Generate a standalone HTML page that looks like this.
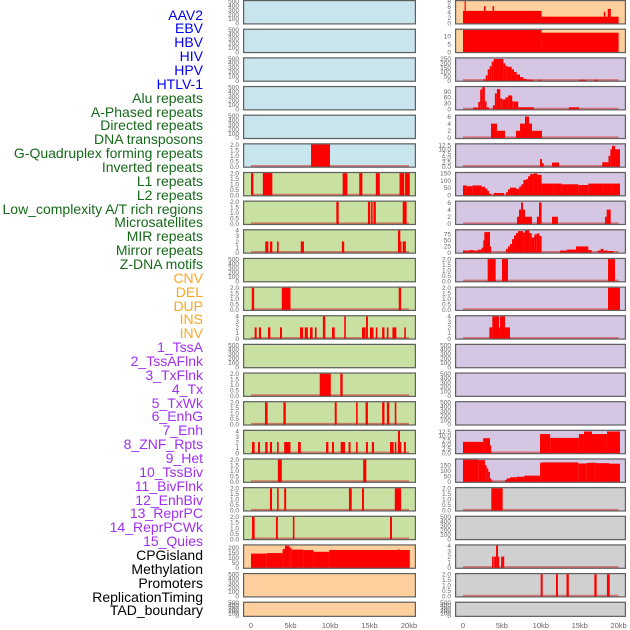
<!DOCTYPE html>
<html><head><meta charset="utf-8">
<style>
html,body{margin:0;padding:0;background:#fff;}
body{width:630px;height:630px;overflow:hidden;position:relative;font-family:"Liberation Sans",sans-serif;}
#labels div{position:absolute;right:427px;font-size:14px;line-height:14px;white-space:nowrap;}
svg{position:absolute;left:0;top:0;}
</style></head>
<body>
<div id="labels"></div>
<svg id="chart" width="630" height="630"></svg>
<script>
const trackNames = ["AAV2","EBV","HBV","HIV","HPV","HTLV-1","Alu repeats","A-Phased repeats","Directed repeats","DNA transposons","G-Quadruplex forming repeats","Inverted repeats","L1 repeats","L2 repeats","Low_complexity A/T rich regions","Microsatellites","MIR repeats","Mirror repeats","Z-DNA motifs","CNV","DEL","DUP","INS","INV","1_TssA","2_TssAFlnk","3_TxFlnk","4_Tx","5_TxWk","6_EnhG","7_Enh","8_ZNF_Rpts","9_Het","10_TssBiv","11_BivFlnk","12_EnhBiv","13_ReprPC","14_ReprPCWk","15_Quies","CPGisland","Methylation","Promoters","ReplicationTiming","TAD_boundary"];
const trackGroups = ["v","v","v","v","v","v","r","r","r","r","r","r","r","r","r","r","r","r","r","s","s","s","s","s","c","c","c","c","c","c","c","c","c","c","c","c","c","c","c","o","o","o","o","o"];
const xTickLabels = ["0","5kb","10kb","15kb","20kb"];
const xTickValues = [0,5,10,15,20];
const T500=[0,100,200,300,400,500], T2=[0,0.5,1,1.5,2], T4=[0,1,2,3,4];

const L05=[[7.6,10.0,2]];
const L06=[[0,0.3,2],[1.5,2.7,2],[11.6,12.2,2],[13.7,14.1,2],[15.8,16.3,2],[18.8,19.4,2],[19.5,20.1,2]];
const L07=[[10.8,11.1,2],[14.8,15.1,2],[15.2,15.4,2],[15.5,15.8,2],[19.2,19.7,2]];
const L08=[[1.8,2.2,2],[2.4,2.7,2],[3.3,3.5,2],[6.3,6.7,2],[11.5,11.8,2],[18.6,18.9,4],[18.9,19.0,2],[19.2,19.6,2]];
const L10=[[0.1,0.4,2],[3.9,5.0,2],[18.7,19.0,2]];
const L11=[[0.46,0.72,2],[1.0,1.27,2],[2.15,2.45,2],[3.67,3.92,2],[6.2,6.6,2],[6.8,7.2,2],[7.47,7.8,2],[8.1,8.3,2],[9.1,9.4,4],[10.25,10.6,2],[11.8,12.0,4],[14.05,14.5,2],[14.56,14.8,4],[15.06,15.5,2],[15.8,16.0,2],[16.6,16.9,2],[17.2,17.4,2],[17.9,18.4,2],[19.4,19.6,2]];
const L13=[[8.7,10.1,2],[11.3,11.6,2]];
const L14=[[1.77,2.1,2],[4.1,4.4,2],[10.6,10.85,2],[13.3,13.5,2],[14.5,14.8,2],[16.6,16.9,2],[17.2,17.5,2],[18.2,18.4,2]];
const L15=[[0.13,0.46,2],[0.89,1.14,2],[1.8,2.1,2],[2.4,2.66,2],[3.3,3.5,2],[4.2,5.0,2],[5.95,6.3,2],[9.5,9.8,2],[10.25,10.5,2],[11.35,11.9,2],[12.35,12.6,2],[13.3,13.5,2],[14.55,14.8,2],[15.3,15.57,2],[17.6,18.06,2],[18.2,18.4,2],[18.6,18.86,4],[18.86,19.0,2],[19.36,19.6,2]];
const L16=[[3.4,3.9,2],[14.2,14.6,2]];
const L17=[[2.4,2.66,2],[3.3,3.5,2],[4.2,4.45,2],[12.4,12.75,2],[14.05,14.3,2],[18.2,19.0,2]];
const L18=[[0.13,0.46,2],[3.16,3.4,2],[5.3,5.5,2],[17.6,17.85,2]];
const L19=[[0,2,140],[2,4,145],[4,4.3,185],[4.3,4.85,218],[4.85,5.1,200],[5.1,6.6,180],[6.6,7.9,175],[7.9,9.9,158],[9.9,20.1,176],[18.6,18.8,182]];

const R00=[[0,10.1,4.5],[0.2,0.35,8],[2.7,2.9,6.2],[3.8,4.0,6.2],[10.1,20,2.4],[18.1,18.3,4.2],[18.6,19.0,5.2]];
const R01=[[0,10.1,14],[10.1,20,12.2]];
const R02=[[2.62,2.92,15],[2.92,3.18,60],[3.18,3.43,130],[3.43,3.69,165],[3.69,3.94,220],[3.94,5.19,250],[5.19,5.44,200],[5.44,5.7,170],[5.7,6.25,160],[6.25,6.55,130],[6.55,6.9,100],[6.9,7.33,70],[7.33,7.76,40],[7.76,8.18,20],[8.18,9.04,10],[9.73,10.07,9],[14.9,15.8,9],[16.84,17.3,9]];
const R03=[[1.31,1.96,9],[1.96,2.21,37],[2.21,2.47,100],[2.47,2.81,112],[2.81,3.03,40],[3.03,3.33,10],[3.84,4.1,20],[4.1,4.36,80],[4.36,4.79,102],[4.79,5.04,55],[5.04,5.47,50],[5.47,5.81,60],[5.81,6.33,70],[6.33,6.54,40],[6.54,7.1,39],[7.1,7.61,10],[7.61,9.11,10],[13.6,14.9,10]];
const R04=[[3.6,4.37,4],[4.37,5.4,2],[6.81,7.33,2],[7.33,7.97,4],[7.97,8.48,6],[8.48,8.87,4],[8.87,10.15,2]];
const R05=[[9.9,10.15,4.3],[10.15,10.37,2],[11.44,12.34,2.3],[17.9,18.7,2.5],[18.7,18.94,6.2],[18.94,19.15,10],[19.15,19.54,12],[19.54,20.18,10]];
const R06=[[0,0.47,67],[0.47,1.24,62],[1.24,2.4,67],[2.4,2.83,58],[2.83,3.13,45],[3.13,3.34,30],[3.34,3.6,10],[3.98,5.27,15],[5.52,5.78,20],[5.78,6.04,40],[6.04,6.81,52],[6.81,7.24,45],[7.24,7.5,60],[7.5,7.76,75],[7.76,8.1,105],[8.1,8.36,110],[8.36,8.61,130],[8.61,9.04,145],[9.04,9.56,150],[9.56,10.1,140],[10.1,11.61,80],[11.61,12.68,80],[12.68,14.82,75],[14.82,16.11,70],[16.11,18.04,80],[18.04,19.1,80],[19.1,20.18,80]];
const R07=[[6.94,7.2,2],[7.2,7.46,4],[7.46,7.71,6],[7.71,7.97,4],[7.97,8.87,2],[9.5,9.77,2],[9.77,10.1,6],[11.44,12.2,2],[18.25,18.47,2],[18.47,18.98,4]];
const R08=[[0,0.9,8],[0.9,1.33,10],[1.33,1.97,8],[1.97,2.4,12],[2.4,2.61,20],[2.61,2.74,50],[2.74,3.47,84],[3.47,3.6,25],[5.52,5.78,15],[5.78,6.04,25],[6.04,6.3,35],[6.3,6.56,55],[6.56,6.81,70],[6.81,7.07,80],[7.07,7.76,88],[7.76,7.97,82],[7.97,8.53,91],[8.53,8.83,80],[8.83,9.17,62],[9.17,9.47,75],[9.47,9.81,78],[9.81,10.1,68],[12.47,13.33,8],[13.33,14.53,12],[14.53,16.11,25],[16.11,16.54,10],[17.31,17.7,8],[17.7,18.04,15],[18.04,18.6,8],[18.6,19.33,6]];
const R09=[[3.17,4.2,2],[5.01,5.78,2],[18.64,19.54,2]];
const R10=[[18.64,20.18,2]];
const R11=[[3.39,3.77,2],[3.77,4.63,4],[4.63,4.76,2],[4.76,5.4,4],[5.4,6.04,2]];
const R15=[[0,2.59,6.5],[2.59,3.47,8.6],[3.47,3.6,4.5],[9.9,11.2,11],[11.2,14.9,8.8],[14.9,15.55,11],[15.55,16.58,12.5],[16.58,18.5,11],[18.5,20.18,12.5]];
const R16=[[0,1.97,200],[1.97,2.83,195],[2.83,3.04,150],[3.04,3.26,120],[3.26,3.47,90],[3.47,3.64,30],[3.64,3.9,8],[5.4,5.61,15],[5.61,6.04,30],[6.04,6.9,40],[6.9,7.88,45],[7.88,9.9,55],[9.9,10.1,170],[10.1,14.82,175],[14.82,15.89,165],[15.89,16.32,170],[16.32,17.05,172],[17.05,18.77,168],[18.77,20.18,163]];
const R17=[[3.64,5.1,2]];
const R19=[[3.73,3.94,2],[4.0,4.25,2],[4.25,4.5,4],[4.5,4.63,2],[4.9,5.3,2]];
const R20=[[9.98,10.24,2],[11.95,12.2,2],[13.3,13.6,2],[16.88,17.18,2],[18.5,18.86,2]];

// [col,row,bg,segments,ymax,ticks]
const B='#c8e4ec',G='#c8e0a2',O='#ffd09e',P='#d5c7e3',Y='#d0d0d0';
const panels=[
[0,0,B,null,500,T500],[0,1,B,null,500,T500],[0,2,B,null,500,T500],[0,3,B,null,500,T500],[0,4,B,null,500,T500],
[0,5,B,L05,2,T2],[0,6,G,L06,2,T2],[0,7,G,L07,2,T2],[0,8,G,L08,4,T4],[0,9,G,null,500,T500],
[0,10,G,L10,2,T2],[0,11,G,L11,4,T4],[0,12,G,null,500,T500],[0,13,G,L13,2,T2],[0,14,G,L14,2,T2],
[0,15,G,L15,4,T4],[0,16,G,L16,2,T2],[0,17,G,L17,2,T2],[0,18,G,L18,2,T2],[0,19,O,L19,220,[0,50,100,150,200]],
[0,20,O,null,500,T500],[0,21,O,null,500,T500],
[1,0,O,R00,8,[0,2,4,6,8]],[1,1,O,R01,14,[0,5,10]],[1,2,P,R02,255,[0,50,100,150,200,250]],[1,3,P,R03,112,[0,30,60,90]],
[1,4,P,R04,6.2,[0,2,4,6]],[1,5,P,R05,12.8,[0,2.5,5,7.5,10,12.5]],[1,6,P,R06,152,[0,50,100,150]],[1,7,P,R07,6.2,[0,2,4,6]],
[1,8,P,R08,91,[0,25,50,75]],[1,9,P,R09,2,T2],[1,10,P,R10,2,T2],[1,11,P,R11,4,T4],[1,12,P,null,500,T500],
[1,13,P,null,500,T500],[1,14,P,null,500,T500],[1,15,P,R15,12.8,[0,2.5,5,7.5,10,12.5]],[1,16,P,R16,200,[0,50,100,150]],
[1,17,Y,R17,2,T2],[1,18,Y,null,500,T500],[1,19,Y,R19,4,T4],[1,20,Y,R20,2,T2],[1,21,Y,null,500,T500]
];

const NS='http://www.w3.org/2000/svg';
const svg=document.getElementById('chart');
const colL=[243,455], colR=[416,626], x0px=[251,463], pxkb=[7.9,7.78];
function xs(c,kb){return x0px[c]+kb*pxkb[c];}
function mk(t,a){const e=document.createElementNS(NS,t);for(const k in a)e.setAttribute(k,a[k]);return e;}
const colors={v:'#0000ee',r:'#17691a',s:'#ffa520',c:'#a030f0',o:'#000000'};
const lab=document.getElementById('labels');
trackNames.forEach((n,i)=>{
  const d=document.createElement('div');
  d.textContent=n;
  d.style.top=(15+i*13.86-7.5)+'px';
  d.style.color=colors[trackGroups[i]];
  
  
  lab.appendChild(d);
});
panels.forEach(p=>{
  const [c,r,bg,segs,ymax,ticks]=p;
  const top=r*28.65, h=(r===21?15.3:24.5), left=colL[c], w=colR[c]-colL[c];
  const g=mk('g',{});
  
  
  svg.appendChild(g);
  const bgR=mk('rect',{x:left,y:top,width:w,height:h,fill:bg});
  
  
  g.appendChild(bgR);
  const bot=top+h-1.2, span=h-2.4;
  const ys=v=>bot-v/ymax*span;
  const dec=ticks.some(t=>t%1!==0)||ticks===T2;
  ticks.forEach(t=>{
    const tx=mk('text',{x:left-4,y:ys(t)+2.3,'font-size':6.5,fill:'#666','text-anchor':'end','font-family':'Liberation Sans, sans-serif'});
    tx.textContent=dec?t.toFixed(1):String(t);
    
    
    g.appendChild(tx);
  });
  if(segs){
    const bl=mk('line',{x1:xs(c,0),x2:xs(c,20),y1:bot-0.5,y2:bot-0.5,stroke:'rgba(210,40,40,0.55)','stroke-width':2});
    
    
    g.appendChild(bl);
    segs.forEach(s=>{
      const xa=xs(c,s[0]), xb=xs(c,s[1]);
      const rc=mk('rect',{x:xa,y:ys(s[2]),width:Math.max(xb-xa,1.2),height:bot-ys(s[2])+0.5,fill:'#ff0000'});
      
      
      g.appendChild(rc);
    });
  }
  const fr=mk('rect',{x:left+0.6,y:top+0.6,width:w-1.2,height:h-1.2,fill:'none',stroke:'#606060','stroke-width':1.2});
  
  
  g.appendChild(fr);
});
[0,1].forEach(c=>{
  xTickValues.forEach((v,i)=>{
    const t=mk('text',{x:xs(c,v),y:628,'font-size':7.5,fill:'#666','text-anchor':'middle','font-family':'Liberation Sans, sans-serif'});
    t.textContent=xTickLabels[i];
    
    
    svg.appendChild(t);
  });
});
</script>
</body></html>
